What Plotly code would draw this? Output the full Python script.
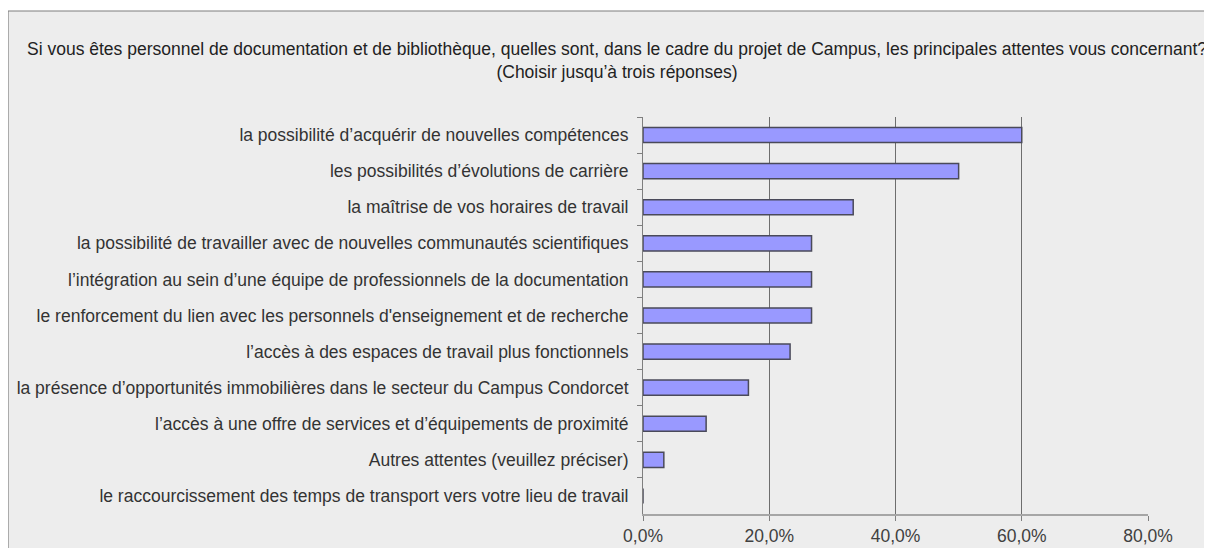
import plotly.graph_objects as go

categories = [
    "la possibilité d’acquérir de nouvelles compétences",
    "les possibilités d’évolutions de carrière",
    "la maîtrise de vos horaires de travail",
    "la possibilité de travailler avec de nouvelles communautés scientifiques",
    "l’intégration au sein d’une équipe de professionnels de la documentation",
    "le renforcement du lien avec les personnels d'enseignement et de recherche",
    "l’accès à des espaces de travail plus fonctionnels",
    "la présence d’opportunités immobilières dans le secteur du Campus Condorcet",
    "l’accès à une offre de services et d’équipements de proximité",
    "Autres attentes (veuillez préciser)",
    "le raccourcissement des temps de transport vers votre lieu de travail",
]
values = [0.600, 0.500, 0.333, 0.267, 0.267, 0.267, 0.233, 0.167, 0.100, 0.033, 0.0]
x_ticks = [0, 0.2, 0.4, 0.6, 0.8]

title = ("Si vous êtes personnel de documentation et de bibliothèque, quelles sont, dans le cadre du projet de Campus, "
         "les principales attentes vous concernant?<br>(Choisir jusqu’à trois réponses)")

# the page body adds an 8px offset, so target positions are shifted by 8
OFF = 8
W, H = 1212, 548
L, R, T, B = 643 - OFF, 72, 117 - OFF, 42
pw, ph = W - L - R, H - T - B

def px_x(p):
    return (p - OFF - L) / pw

def px_y(p):
    return (H - B - (p - OFF)) / ph

fig = go.Figure()
fig.add_trace(go.Bar(
    x=values, y=categories, orientation="h", width=0.42,
    marker=dict(color="#9999FF", line=dict(color="#4a4a5a", width=1.5)),
    hoverinfo="x+y",
))

fig.update_layout(
    width=W, height=H,
    margin=dict(l=L, r=R, t=T, b=B, pad=0),
    paper_bgcolor="white",
    plot_bgcolor="rgba(0,0,0,0)",
    font=dict(family="Liberation Sans, Arial, sans-serif", size=17.5, color="#333333"),
    separators=", ",
    showlegend=False,
)

# grey framed background
fig.add_shape(type="rect", xref="paper", yref="paper",
              x0=px_x(8), x1=px_x(W + 20), y0=px_y(H + 20), y1=px_y(11),
              fillcolor="#EDEDED", line=dict(color="#7f7f7f", width=1.2), layer="below")

fig.add_annotation(text=title, xref="paper", yref="paper",
                   x=px_x(617), y=px_y(37), xanchor="center", yanchor="top",
                   showarrow=False, align="center",
                   font=dict(size=17.5, color="#222222"))

fig.update_xaxes(range=[0, 0.8], tickvals=x_ticks, tickformat=".1%",
                 showgrid=True, gridcolor="#6e6e6e", gridwidth=1,
                 showline=True, linecolor="#a6a6a6", linewidth=2,
                 ticks="outside", ticklen=5, tickcolor="#7f7f7f",
                 zeroline=False, automargin=False,
                 tickfont=dict(size=17.5, color="#404040"))
fig.update_yaxes(autorange="reversed", showgrid=False,
                 showline=True, linecolor="#7f7f7f", linewidth=1,
                 ticks="outside", tickson="boundaries", ticklen=5, tickcolor="#7f7f7f",
                 ticklabelstandoff=10, automargin=False,
                 tickfont=dict(size=17.5, color="#333333"))

fig.write_html("out.html")
